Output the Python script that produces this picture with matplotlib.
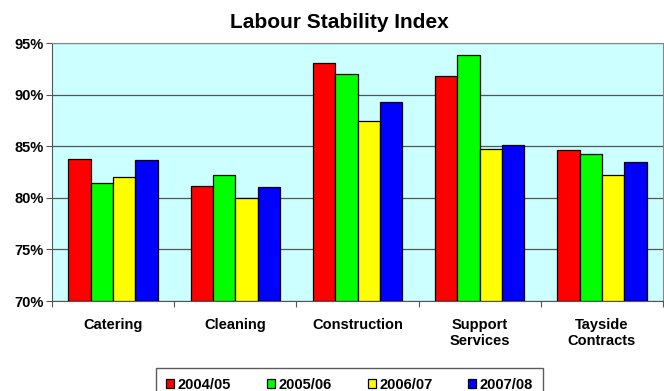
import matplotlib
matplotlib.use("Agg")
import matplotlib.pyplot as plt
import numpy as np

categories = ["Catering", "Cleaning", "Construction", "Support\nServices", "Tayside\nContracts"]
series_names = ["2004/05", "2005/06", "2006/07", "2007/08"]
v_2004 = [83.8, 81.1, 93.1, 91.8, 84.6]
v_2005 = [81.4, 82.2, 92.0, 93.8, 84.2]
v_2006 = [82.0, 80.0, 87.4, 84.7, 82.2]
v_2007 = [83.7, 81.0, 89.3, 85.1, 83.5]
values = [v_2004, v_2005, v_2006, v_2007]
colors = ["#FF0000", "#00FF00", "#FFFF00", "#0000FF"]
yticks = [70, 75, 80, 85, 90, 95]

plt.rcParams['font.family'] = ['Liberation Sans', 'DejaVu Sans']
fig = plt.figure(figsize=(6.64, 3.91), dpi=100)
ax = fig.add_axes([52/664, 1 - 301/391, (663 - 52)/664, (301 - 43)/391])
ax.set_facecolor("#CCFFFF")

x = np.arange(len(categories))
bw = 0.73 / 4
for i, (name, vals, c) in enumerate(zip(series_names, values, colors)):
    ax.bar(x - 0.365 + bw * (i + 0.5), [v - 70 for v in vals], bw, bottom=70,
           color=c, edgecolor="black", linewidth=0.9, label=name, zorder=3)

ax.set_ylim(70, 95)
ax.set_xlim(-0.5, len(categories) - 0.5)
ax.set_yticks(yticks)
ax.set_yticklabels([f"{t}%" for t in yticks], fontsize=10.5, fontweight="bold")
ax.yaxis.grid(True, color="#555555", linewidth=0.9, zorder=0)
ax.set_axisbelow(True)

ax.set_xticks(np.arange(len(categories) + 1) - 0.5, minor=False)
ax.set_xticklabels([])
ax.set_xticks(x, minor=True)
ax.set_xticklabels(categories, minor=True, fontsize=10.5, fontweight="bold")
ax.tick_params(axis="x", which="minor", length=0, pad=12)
ax.tick_params(axis="x", which="major", length=4, color="#555555", direction="out")
ax.tick_params(axis="y", length=4, color="#555555", direction="out", pad=2)

for s in ["top", "right"]:
    ax.spines[s].set_color("#888888")
for s in ["left", "bottom"]:
    ax.spines[s].set_color("#555555")

fig.text(339/664, 1 - 22/391, "Labour Stability Index", ha="center", va="center",
         fontsize=15, fontweight="bold")

leg = fig.legend(loc="lower left", bbox_to_anchor=(156/664, -11/391), ncol=4,
                 frameon=True, fancybox=False, edgecolor="#333333",
                 prop={"weight": "bold", "size": 10.5}, handlelength=0.55, handleheight=0.55,
                 columnspacing=2.45, handletextpad=0.25, borderpad=0.7, borderaxespad=0)
leg.get_frame().set_linewidth(1.0)

fig.savefig("out.png", dpi=100)
